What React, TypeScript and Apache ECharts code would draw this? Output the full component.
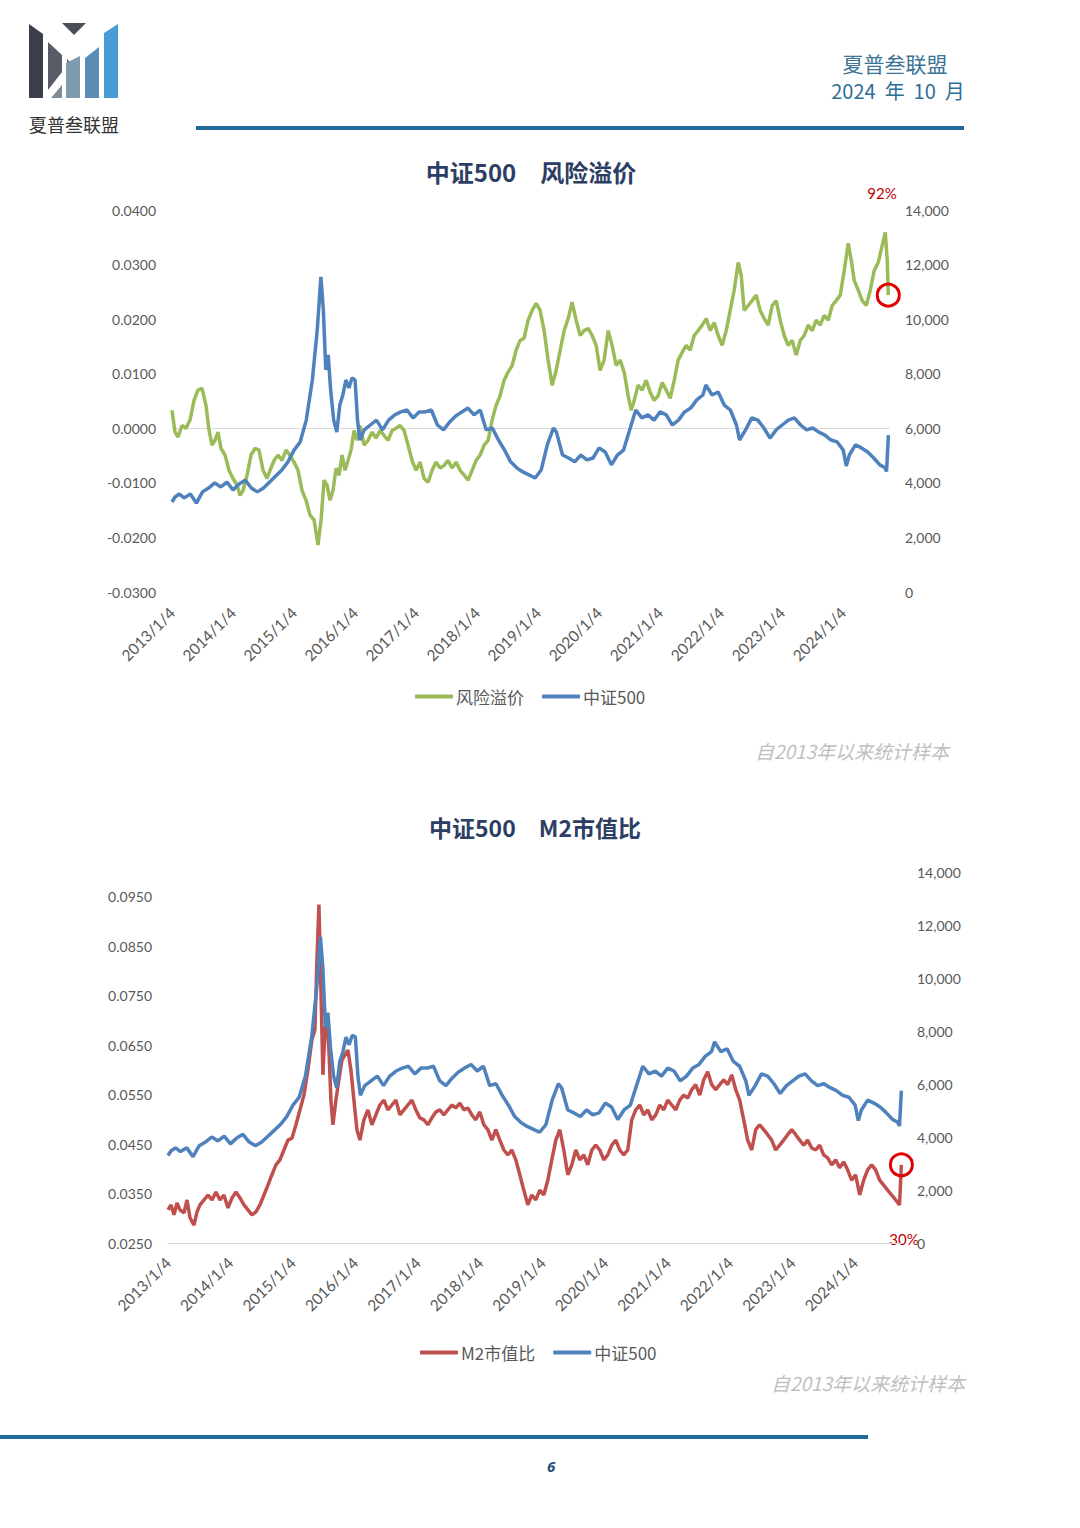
import React, { useEffect, useRef } from "react";
import * as echarts from "echarts";

// ---------- data ----------
const yearTicks = [2013, 2014, 2015, 2016, 2017, 2018, 2019, 2020, 2021, 2022, 2023, 2024];
const leftTicks1 = [-0.03, -0.02, -0.01, 0, 0.01, 0.02, 0.03, 0.04];
const leftTicks2 = [0.025, 0.035, 0.045, 0.055, 0.065, 0.075, 0.085, 0.095];
const rightTicks = [0, 2000, 4000, 6000, 8000, 10000, 12000, 14000];

// 风险溢价 (chart 1, left axis)
const rpYears = [
  2013.000, 2013.049, 2013.098, 2013.164, 2013.230, 2013.295, 2013.361, 2013.426, 2013.492, 2013.557, 2013.607, 2013.656, 2013.705, 2013.754, 2013.803, 2013.869, 2013.934,
  2014.000, 2014.066, 2014.115, 2014.164, 2014.230, 2014.295, 2014.361, 2014.426, 2014.492, 2014.557, 2014.607, 2014.672, 2014.738, 2014.803, 2014.869, 2014.934,
  2015.000, 2015.066, 2015.131, 2015.197, 2015.262, 2015.328, 2015.393, 2015.443, 2015.492, 2015.541, 2015.590, 2015.639, 2015.689, 2015.738, 2015.787, 2015.836, 2015.885, 2015.934, 2015.984,
  2016.033, 2016.082, 2016.148, 2016.213, 2016.279, 2016.344, 2016.410, 2016.475, 2016.541, 2016.607, 2016.672, 2016.738, 2016.803, 2016.869, 2016.934,
  2017.000, 2017.066, 2017.131, 2017.197, 2017.262, 2017.328, 2017.393, 2017.459, 2017.525, 2017.590, 2017.656, 2017.721, 2017.787, 2017.852, 2017.918, 2017.984,
  2018.049, 2018.115, 2018.180, 2018.246, 2018.311, 2018.377, 2018.443, 2018.508, 2018.574, 2018.639, 2018.705, 2018.770, 2018.836, 2018.902, 2018.967,
  2019.033, 2019.098, 2019.164, 2019.230, 2019.295, 2019.361, 2019.426, 2019.492, 2019.557, 2019.623, 2019.689, 2019.754, 2019.820, 2019.885, 2019.951,
  2020.016, 2020.082, 2020.148, 2020.213, 2020.279, 2020.344, 2020.410, 2020.475, 2020.525, 2020.574, 2020.639, 2020.705, 2020.770, 2020.836, 2020.902, 2020.967,
  2021.033, 2021.098, 2021.164, 2021.230, 2021.295, 2021.361, 2021.426, 2021.492, 2021.557, 2021.623, 2021.689, 2021.754, 2021.820, 2021.885, 2021.951,
  2022.016, 2022.082, 2022.148, 2022.213, 2022.279, 2022.328, 2022.377, 2022.443, 2022.508, 2022.574, 2022.639, 2022.705, 2022.770, 2022.836, 2022.902, 2022.967,
  2023.033, 2023.098, 2023.164, 2023.230, 2023.295, 2023.361, 2023.426, 2023.492, 2023.557, 2023.623, 2023.689, 2023.754, 2023.820, 2023.885, 2023.951,
  2024.016, 2024.082, 2024.131, 2024.180, 2024.246, 2024.311, 2024.377, 2024.443, 2024.508, 2024.574, 2024.639, 2024.689, 2024.721, 2024.738,
];
const rpValues = [
  0.0033, -0.0007, -0.0016, 0.0005, 0.0, 0.0015, 0.0051, 0.007, 0.0073, 0.0042, -0.0004, -0.0031, -0.0022, -0.0007, -0.0037, -0.0049, -0.0077,
  -0.0092, -0.0104, -0.0123, -0.0114, -0.0086, -0.0049, -0.0037, -0.004, -0.0077, -0.0092, -0.0077, -0.0059, -0.0049, -0.0059, -0.004, -0.0049,
  -0.0062, -0.0077, -0.0114, -0.0132, -0.0159, -0.0168, -0.0214, -0.0168, -0.0095, -0.0104, -0.0132, -0.0114, -0.0073, -0.0086, -0.0049, -0.0077, -0.0059, -0.004, -0.0004,
  -0.0022, 0.0005, -0.0031, -0.0022, -0.0007, -0.0018, -0.0004, -0.0013, -0.0022, -0.0004, 0.0, 0.0005, -0.0004, -0.0031, -0.0059,
  -0.0077, -0.0062, -0.0092, -0.0099, -0.0077, -0.0062, -0.0073, -0.0068, -0.0059, -0.0073, -0.0062, -0.0077, -0.0086, -0.0095, -0.0077, -0.0059,
  -0.0049, -0.0031, -0.0022, 0.0015, 0.0042, 0.006, 0.0088, 0.0103, 0.0115, 0.0143, 0.0161, 0.0165, 0.0198, 0.0216, 0.0229,
  0.0216, 0.0179, 0.0125, 0.0079, 0.0106, 0.0143, 0.0179, 0.0201, 0.0231, 0.0198, 0.017, 0.0179, 0.0183, 0.017, 0.0152,
  0.0106, 0.0125, 0.0179, 0.0152, 0.0115, 0.0125, 0.0103, 0.006, 0.0033, 0.0051, 0.0079, 0.007, 0.0088, 0.0066, 0.0051, 0.006,
  0.0084, 0.007, 0.0055, 0.0088, 0.0125, 0.0139, 0.0152, 0.0143, 0.017, 0.0179, 0.0189, 0.0201, 0.0179, 0.0194, 0.017,
  0.0152, 0.0179, 0.0216, 0.0253, 0.0304, 0.028, 0.0216, 0.0225, 0.0234, 0.0244, 0.0216, 0.0201, 0.0189, 0.0225, 0.0234, 0.0198,
  0.017, 0.0152, 0.0161, 0.0134, 0.0161, 0.017, 0.0189, 0.0179, 0.0198, 0.0189, 0.0207, 0.0198, 0.0225, 0.0234, 0.0244,
  0.0289, 0.0339, 0.0308, 0.0271, 0.0253, 0.0234, 0.0225, 0.0253, 0.0289, 0.0304, 0.0335, 0.0359, 0.0308, 0.0244,
];

// 中证500 (both charts, right axis)
const csiYears = [
  2013.0, 2013.05, 2013.12, 2013.2, 2013.3, 2013.4, 2013.5, 2013.6, 2013.7, 2013.8, 2013.9,
  2014.0, 2014.1, 2014.2, 2014.3, 2014.4, 2014.5, 2014.6, 2014.7, 2014.8, 2014.9,
  2015.0, 2015.1, 2015.2, 2015.3, 2015.38, 2015.44, 2015.48, 2015.52, 2015.56, 2015.6, 2015.65, 2015.7, 2015.75, 2015.8, 2015.85, 2015.9, 2015.95,
  2016.0, 2016.04, 2016.08, 2016.15, 2016.25, 2016.35, 2016.45, 2016.55, 2016.65, 2016.75, 2016.85, 2016.95,
  2017.05, 2017.15, 2017.25, 2017.35, 2017.45, 2017.55, 2017.65, 2017.75, 2017.85, 2017.95,
  2018.05, 2018.15, 2018.25, 2018.35, 2018.45, 2018.55, 2018.65, 2018.75, 2018.85, 2018.95,
  2019.05, 2019.15, 2019.25, 2019.3, 2019.4, 2019.5, 2019.6, 2019.7, 2019.8, 2019.9,
  2020.0, 2020.1, 2020.2, 2020.3, 2020.4, 2020.5, 2020.6, 2020.7, 2020.8, 2020.9,
  2021.0, 2021.1, 2021.2, 2021.3, 2021.4, 2021.5, 2021.6, 2021.7, 2021.75, 2021.85, 2021.95,
  2022.05, 2022.15, 2022.25, 2022.3, 2022.4, 2022.5, 2022.6, 2022.7, 2022.8, 2022.9,
  2023.0, 2023.1, 2023.2, 2023.3, 2023.4, 2023.5, 2023.6, 2023.7, 2023.8, 2023.9,
  2024.0, 2024.05, 2024.1, 2024.2, 2024.3, 2024.4, 2024.5, 2024.6, 2024.68, 2024.71, 2024.74,
];
const csiValues = [
  3300, 3480, 3590, 3450, 3590, 3260, 3670, 3810, 4000, 3850, 4030,
  3740, 3960, 4100, 3810, 3670, 3810, 4030, 4250, 4470, 4770,
  5200, 5500, 6300, 7770, 9600, 11550, 10340, 8140, 8690, 7400, 6300, 5860, 6850, 7220, 7770, 7480, 7840,
  7770, 6300, 5570, 5940, 6120, 6300, 5940, 6300, 6490, 6600, 6670, 6380,
  6600, 6600, 6670, 6120, 5940, 6230, 6450, 6600, 6740, 6490,
  6670, 5940, 6010, 5570, 5200, 4770, 4550, 4400, 4290, 4180,
  4470, 5390, 6010, 5860, 5020, 4910, 4770, 5020, 4840, 4910,
  5280, 5130, 4660, 5020, 5200, 5940, 6670, 6380, 6490, 6300,
  6600, 6490, 6120, 6300, 6600, 6740, 7040, 7220, 7590, 7220, 7330,
  6850, 6670, 6120, 5570, 5940, 6380, 6300, 6010, 5640, 5940,
  6120, 6300, 6380, 6120, 5940, 6010, 5860, 5750, 5570, 5500,
  5200, 4620, 5020, 5390, 5280, 5130, 4910, 4660, 4560, 4420, 5750,
];

// M2市值比 (chart 2, left axis)
const m2Years = [
  2013.000, 2013.048, 2013.096, 2013.144, 2013.192, 2013.256, 2013.304, 2013.352, 2013.416, 2013.464, 2013.512, 2013.576, 2013.640, 2013.704, 2013.768, 2013.832, 2013.896, 2013.960,
  2014.024, 2014.088, 2014.152, 2014.216, 2014.280, 2014.344, 2014.408, 2014.472, 2014.536, 2014.600, 2014.664, 2014.728, 2014.792, 2014.856, 2014.920, 2014.984,
  2015.048, 2015.112, 2015.176, 2015.240, 2015.304, 2015.352, 2015.384, 2015.416, 2015.448, 2015.480, 2015.512, 2015.544, 2015.576, 2015.608, 2015.640, 2015.688, 2015.736, 2015.784, 2015.832, 2015.880, 2015.928, 2015.976,
  2016.024, 2016.072, 2016.136, 2016.200, 2016.264, 2016.328, 2016.392, 2016.456, 2016.520, 2016.584, 2016.648, 2016.712, 2016.776, 2016.840, 2016.904, 2016.968,
  2017.032, 2017.096, 2017.160, 2017.224, 2017.288, 2017.352, 2017.416, 2017.480, 2017.544, 2017.608, 2017.672, 2017.736, 2017.800, 2017.864, 2017.928, 2017.992,
  2018.056, 2018.120, 2018.184, 2018.248, 2018.312, 2018.376, 2018.440, 2018.504, 2018.568, 2018.632, 2018.696, 2018.760, 2018.824, 2018.888, 2018.952,
  2019.016, 2019.080, 2019.144, 2019.208, 2019.272, 2019.336, 2019.400, 2019.464, 2019.528, 2019.592, 2019.656, 2019.720, 2019.784, 2019.848, 2019.912, 2019.976,
  2020.040, 2020.104, 2020.168, 2020.232, 2020.296, 2020.360, 2020.424, 2020.488, 2020.552, 2020.616, 2020.680, 2020.744, 2020.808, 2020.872, 2020.936,
  2021.000, 2021.064, 2021.128, 2021.192, 2021.256, 2021.320, 2021.384, 2021.448, 2021.512, 2021.576, 2021.640, 2021.704, 2021.768, 2021.832, 2021.896, 2021.960,
  2022.024, 2022.088, 2022.152, 2022.216, 2022.280, 2022.344, 2022.408, 2022.472, 2022.536, 2022.600, 2022.664, 2022.728, 2022.792, 2022.856, 2022.920, 2022.984,
  2023.048, 2023.112, 2023.176, 2023.240, 2023.304, 2023.368, 2023.432, 2023.496, 2023.560, 2023.624, 2023.688, 2023.752, 2023.816, 2023.880, 2023.944,
  2024.008, 2024.072, 2024.136, 2024.200, 2024.264, 2024.328, 2024.392, 2024.456, 2024.520, 2024.584, 2024.648, 2024.710, 2024.740,
];
const m2Values = [
  0.0317, 0.0327, 0.0307, 0.0331, 0.0317, 0.0311, 0.0337, 0.0301, 0.0286, 0.0313, 0.0327, 0.0337, 0.0347, 0.0337, 0.0353, 0.0337, 0.0347, 0.0321,
  0.0341, 0.0353, 0.0341, 0.0327, 0.0317, 0.0307, 0.0313, 0.0327, 0.0347, 0.0367, 0.0388, 0.0408, 0.0418, 0.0438, 0.0458, 0.0462,
  0.0489, 0.0519, 0.0549, 0.06, 0.0661, 0.0681, 0.0823, 0.0934, 0.0762, 0.059, 0.0681, 0.0701, 0.064, 0.0539, 0.0489, 0.0539, 0.058, 0.062, 0.063, 0.064, 0.06, 0.0539,
  0.0479, 0.0458, 0.0499, 0.0519, 0.0489, 0.0509, 0.0529, 0.0539, 0.0519, 0.0529, 0.0539, 0.0509, 0.0519, 0.0529, 0.0539, 0.0519,
  0.0503, 0.0499, 0.0489, 0.0503, 0.0515, 0.0519, 0.0509, 0.0519, 0.0529, 0.0523, 0.0533, 0.0519, 0.0523, 0.0509, 0.0499, 0.0515,
  0.0489, 0.0479, 0.0458, 0.0479, 0.0458, 0.0438, 0.0428, 0.0438, 0.0418, 0.0388, 0.0357, 0.0327, 0.0347, 0.0337, 0.0357,
  0.0347, 0.0377, 0.0418, 0.0458, 0.0479, 0.0438, 0.0388, 0.0408, 0.0438, 0.0418, 0.0428, 0.0408, 0.0438, 0.0448, 0.0438, 0.0418,
  0.0428, 0.0448, 0.0458, 0.0438, 0.0428, 0.0438, 0.0499, 0.0519, 0.0529, 0.0509, 0.0519, 0.0499, 0.0509, 0.0529, 0.0519,
  0.0539, 0.0529, 0.0519, 0.0539, 0.0549, 0.0543, 0.056, 0.057, 0.0549, 0.058, 0.0596, 0.057, 0.056, 0.057, 0.058, 0.057,
  0.059, 0.056, 0.0539, 0.0499, 0.0458, 0.0438, 0.0479, 0.0489, 0.0479, 0.0469, 0.0458, 0.0438, 0.0448, 0.0458, 0.0469, 0.0479,
  0.0469, 0.0458, 0.0448, 0.0458, 0.0442, 0.0438, 0.0448, 0.0428, 0.0422, 0.0408, 0.0418, 0.0402, 0.0414, 0.0398, 0.0377,
  0.0388, 0.0347, 0.0377, 0.0398, 0.0408, 0.0398, 0.0377, 0.0367, 0.0357, 0.0347, 0.0337, 0.0327, 0.0408,
];

// ---------- styling ----------
const SANS = '"Noto Sans CJK SC", "Noto Sans", sans-serif';
const NUM = 'Lato, "Noto Sans", sans-serif';
const TICK_COLOR = "#595959";
const GREEN = "#9BBB59";
const BLUE = "#4F81BD";
const RED = "#C0504D";
const LINE_W = 3.5;

const zip = (xs: number[], ys: number[]) => xs.map((x, i) => [x, ys[i]]);
const thousands = (v: number) => String(Math.round(v)).replace(/\B(?=(\d{3})+(?!\d))/g, ",");

const xAxisBase = (gridIndex: number, showLine: boolean, margin: number) => ({
  type: "value",
  gridIndex,
  min: 2013,
  max: 2024.75,
  axisLine: { show: showLine, onZero: false, lineStyle: { color: "#D9D9D9", width: 1 } },
  axisTick: { show: false },
  splitLine: { show: false },
  axisLabel: {
    customValues: yearTicks,
    rotate: 45,
    margin,
    fontSize: 15.5,
    fontFamily: NUM,
    color: TICK_COLOR,
    formatter: (v: number) => `${v}/1/4`,
  },
});

const yAxisBase = (gridIndex: number, position: string, min: number, max: number, ticks: number[], fmt: (v: number) => string, margin: number) => ({
  type: "value",
  gridIndex,
  position,
  min,
  max,
  axisLine: { show: false, onZero: false },
  axisTick: { show: false },
  splitLine: { show: false },
  axisLabel: {
    customValues: ticks,
    margin,
    fontSize: 14,
    fontFamily: NUM,
    color: TICK_COLOR,
    formatter: fmt,
  },
});

const circleMark = (x: number, y: number) => ({
  silent: true,
  symbol: "circle",
  symbolSize: 22,
  itemStyle: { color: "rgba(0,0,0,0)", borderColor: "#E00000", borderWidth: 3 },
  label: { show: false },
  data: [{ coord: [x, y] }],
});

const txt = (text: string, x: number, y: number, font: string, fill: string, align = "center") => ({
  type: "text",
  x,
  y,
  silent: true,
  style: { text, font, fill, textAlign: align, textVerticalAlign: "middle" },
});

const poly = (points: number[][], fill: string) => ({
  type: "polygon",
  silent: true,
  shape: { points },
  style: { fill },
});

const legendBase = (data: string[], left: number, top: number) => ({
  data,
  left,
  top,
  icon: "roundRect",
  itemWidth: 38,
  itemHeight: 4,
  itemGap: 18,
  selectedMode: false,
  textStyle: { fontSize: 17, fontFamily: SANS, color: TICK_COLOR, padding: [0, 0, 0, -2] },
});

export default function App() {
  const ref = useRef<HTMLDivElement>(null);

  useEffect(() => {
    if (!ref.current) return;
    const chart = echarts.init(ref.current, null, { renderer: "svg" });

    const option: any = {
      animation: false,
      backgroundColor: "#ffffff",
      grid: [
        { left: 172, top: 210, width: 717, height: 382 },
        { left: 168, top: 872, width: 734, height: 371 },
      ],
      xAxis: [
        xAxisBase(0, false, 18),
        xAxisBase(1, true, 17),
        {
          type: "value",
          gridIndex: 0,
          min: 2013,
          max: 2024.75,
          axisLine: { show: true, onZero: true, onZeroAxisIndex: 0, lineStyle: { color: "#D9D9D9", width: 1 } },
          axisTick: { show: false },
          axisLabel: { show: false },
          splitLine: { show: false },
        },
      ],
      yAxis: [
        yAxisBase(0, "left", -0.03, 0.04, leftTicks1, (v) => v.toFixed(4), 16),
        yAxisBase(0, "right", 0, 14000, rightTicks, thousands, 16),
        yAxisBase(1, "left", 0.025, 0.1, leftTicks2, (v) => v.toFixed(4), 16),
        yAxisBase(1, "right", 0, 14000, rightTicks, thousands, 15),
      ],
      legend: [
        legendBase(["风险溢价", "中证500"], 410, 683),
        legendBase(["M2市值比", "中证500"], 415, 1339),
      ],
      series: [
        {
          name: "风险溢价",
          type: "line",
          xAxisIndex: 0,
          yAxisIndex: 0,
          data: zip(rpYears, rpValues),
          symbol: "none",
          lineStyle: { color: GREEN, width: LINE_W },
          itemStyle: { color: GREEN },
          markPoint: circleMark(rpYears[rpYears.length - 1], rpValues[rpValues.length - 1]),
        },
        {
          name: "中证500",
          type: "line",
          xAxisIndex: 0,
          yAxisIndex: 1,
          data: zip(csiYears, csiValues),
          symbol: "none",
          lineStyle: { color: BLUE, width: LINE_W },
          itemStyle: { color: BLUE },
        },
        {
          name: "M2市值比",
          type: "line",
          xAxisIndex: 1,
          yAxisIndex: 2,
          data: zip(m2Years, m2Values),
          symbol: "none",
          lineStyle: { color: RED, width: LINE_W },
          itemStyle: { color: RED },
          markPoint: circleMark(m2Years[m2Years.length - 1], m2Values[m2Values.length - 1]),
        },
        {
          name: "中证500",
          type: "line",
          xAxisIndex: 1,
          yAxisIndex: 3,
          data: zip(csiYears, csiValues),
          symbol: "none",
          lineStyle: { color: BLUE, width: LINE_W },
          itemStyle: { color: BLUE },
        },
      ],
      graphic: [
        // logo
        poly([[29, 24], [43, 34], [43, 98], [29, 98]], "#3B3F4B"),
        poly([[62, 23], [86, 23], [74, 35]], "#4A4E57"),
        poly([[48, 42], [62, 55], [62, 72], [48, 90]], "#585C66"),
        poly([[51, 98], [62, 85], [62, 98]], "#7E8C98"),
        poly([[67, 59], [71, 63], [67, 66]], "#5A5E66"),
        poly([[66, 63], [80, 56], [80, 98], [66, 98]], "#7F9AAD"),
        poly([[85, 58], [99, 47], [99, 98], [85, 98]], "#5B8DB6"),
        poly([[104, 33], [118, 24], [118, 98], [104, 98]], "#4A9CD6"),
        txt("夏普叁联盟", 74, 124, `18px ${SANS}`, "#333333"),
        // header
        txt("夏普叁联盟", 895, 63, `21px ${SANS}`, "#3C7396"),
        txt("2024  年  10  月", 898, 90, `20px ${SANS}`, "#2F6E96"),
        { type: "line", silent: true, shape: { x1: 196, y1: 128, x2: 964, y2: 128 }, style: { stroke: "#1F6B99", lineWidth: 4 } },
        // titles
        txt("中证500\u3000风险溢价", 531, 171, `bold 24px ${SANS}`, "#2C3E63"),
        txt("中证500\u3000M2市值比", 535, 827, `bold 23px ${SANS}`, "#2C3E63"),
        // annotations
        txt("92%", 882, 193, `15px ${NUM}`, "#C00000"),
        txt("30%", 904, 1239, `15px ${NUM}`, "#C00000"),
        // footnotes
        txt("自2013年以来统计样本", 852, 750, `italic 19px ${SANS}`, "#BFBFBF"),
        txt("自2013年以来统计样本", 868, 1382, `italic 19px ${SANS}`, "#BFBFBF"),
        // footer
        { type: "line", silent: true, shape: { x1: 0, y1: 1437, x2: 868, y2: 1437 }, style: { stroke: "#1F6B99", lineWidth: 4 } },
        txt("6", 551, 1466, `italic bold 15px "Open Sans", sans-serif`, "#1F4E79"),
      ],
    };

    chart.setOption(option);
    return () => chart.dispose();
  }, []);

  return (
    <div
      ref={ref}
      style={{ position: "absolute", left: 0, top: 0, width: 1080, height: 1528, background: "#fff" }}
    />
  );
}
